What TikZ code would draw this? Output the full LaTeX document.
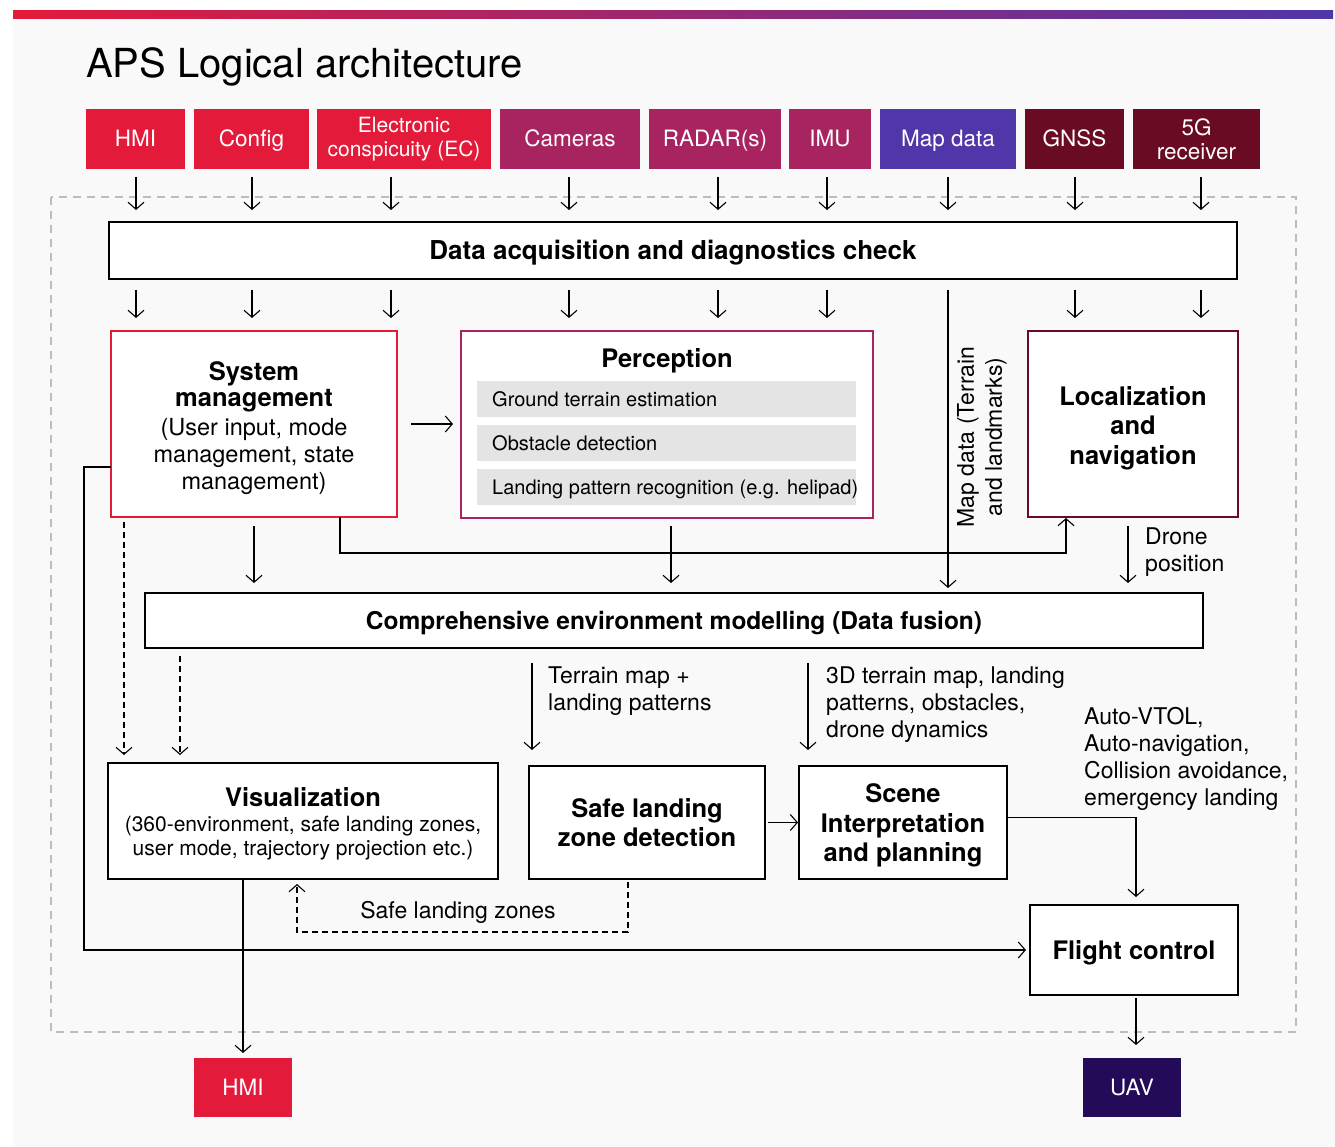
\documentclass[tikz,border=0pt]{standalone}
\usepackage{fontspec}
\setmainfont{TeX Gyre Heros}
\usetikzlibrary{arrows.meta,calc}
\definecolor{cred}{HTML}{E41A3A}
\definecolor{cmag}{HTML}{A72460}
\definecolor{cpurp}{HTML}{5036A8}
\definecolor{cmaroon}{HTML}{690B22}
\definecolor{cuav}{HTML}{230B59}
\definecolor{cbg}{HTML}{F9F9F9}
\definecolor{citem}{HTML}{E4E4E4}
\definecolor{cdash}{HTML}{BDBDBD}
\definecolor{cmid}{HTML}{B21E55}
\tikzset{
  src/.style={rectangle, inner sep=0pt, outer sep=0pt, text=white, minimum height=60pt,
    align=center, font=\fontsize{22.5}{24}\selectfont},
  one/.style={text height=16pt, text depth=0pt},
  bbox/.style={rectangle, draw=black, line width=2.8pt, fill=white, inner sep=0pt, outer sep=0pt},
  cbox/.style={rectangle, draw=#1, line width=2.6pt, fill=white, inner sep=0pt, outer sep=0pt},
  btxt/.style={font=\fontsize{25.5}{29.5}\selectfont\bfseries, align=center, inner sep=0pt},
  bone/.style={btxt, text height=18.5pt, text depth=0pt},
  rtxt/.style={font=\fontsize{23}{27}\selectfont, align=left, inner sep=0pt},
  item/.style={rectangle, fill=citem, inner sep=0pt, outer sep=0pt, minimum width=379pt, minimum height=36pt},
  itxt/.style={font=\fontsize{20}{24}\selectfont, inner sep=0pt, text height=14.4pt, text depth=0pt},
  arr/.style={line width=1.1pt, -{Straight Barb[length=7pt,width=16pt]}},
  darr/.style={arr, dash pattern=on 6pt off 4pt},
}
\begin{document}
\begin{tikzpicture}[x=1pt,y=-1pt]
\useasboundingbox (0,0) rectangle (1335,1147);
\fill[white] (0,0) rectangle (1335,1147);
\fill[cbg] (13,19) rectangle (1335,1147);
\shade[left color=cred, middle color=cmid, right color=cpurp] (13,11) rectangle (1333,19);

\node[anchor=base west, inner sep=0pt, font=\fontsize{40}{44}\selectfont] (title) at (86,78) {APS Logical architecture};

% outer dashed frame
\draw[cdash, line width=2pt, dash pattern=on 8pt off 6pt] (51,197) rectangle (1296,1032);

% sources
\node[src, one, fill=cred, minimum width=99pt] (iHMI) at (135.5,139) {HMI};
\node[src, one, fill=cred, minimum width=115pt] (iCfg) at (251.5,139) {Config};
\node[src, fill=cred, minimum width=174pt, font=\fontsize{21}{24}\selectfont] (iEC) at (404,139) {Electronic\\conspicuity (EC)};
\node[src, one, fill=cmag, minimum width=140pt] (iCam) at (570,139) {Cameras};
\node[src, one, fill=cmag, minimum width=132pt] (iRad) at (715,139) {RADAR(s)};
\node[src, one, fill=cmag, minimum width=82pt] (iIMU) at (830,139) {IMU};
\node[src, one, fill=cpurp, minimum width=136pt] (iMap) at (948,139) {Map data};
\node[src, one, fill=cmaroon, minimum width=99pt] (iGNSS) at (1074.5,139) {GNSS};
\node[src, fill=cmaroon, minimum width=127pt] (i5G) at (1196.5,139) {5G\\receiver};

% main boxes
\node[bbox, minimum width=1128pt, minimum height=57pt] (dacq) at (673,250.5) {};
\node[bone, font=\fontsize{26}{29.5}\selectfont\bfseries] (dacqt) at (673,250.5) {Data acquisition and diagnostics check};

\node[cbox=cred, minimum width=286pt, minimum height=186pt] (sys) at (254,424) {};
\node[btxt, font=\fontsize{25.5}{26}\selectfont\bfseries] (syst) at (254,387) {System\\management};
\node[inner sep=0pt, align=center, font=\fontsize{23.5}{27}\selectfont] (sysb) at (254,456) {(User input, mode\\management, state\\management)};

\node[cbox=cmag, minimum width=412pt, minimum height=187pt] (perc) at (667,424.5) {};
\node[bone] (perct) at (667,358) {Perception};
\node[item] (p1) at (666.5,399) {};
\node[item] (p2) at (666.5,443) {};
\node[item] (p3) at (666.5,487) {};
\node[itxt, anchor=west] (p1t) at ([xshift=15pt]p1.west) {Ground terrain estimation};
\node[itxt, anchor=west] (p2t) at ([xshift=15pt]p2.west) {Obstacle detection};
\node[itxt, anchor=west] (p3t) at ([xshift=15pt]p3.west) {Landing pattern recognition (e.g. helipad)};

\node[cbox=cmaroon, minimum width=210pt, minimum height=186pt] (loc) at (1133,424) {};
\node[btxt] (loct) at (1133,428) {Localization\\and\\navigation};

\node[rtxt, rotate=90, align=center, font=\fontsize{23}{28}\selectfont] (maplbl) at (982,437) {Map data (Terrain\\and landmarks)};

\node[bbox, minimum width=1058pt, minimum height=55pt] (comp) at (674,620.5) {};
\node[bone, font=\fontsize{24.5}{29.5}\selectfont\bfseries] (compt) at (674,620.5) {Comprehensive environment modelling (Data fusion)};

\node[bbox, minimum width=390pt, minimum height=116pt] (vis) at (303,821) {};
\node[bone] (vist) at (303,797) {Visualization};
\node[inner sep=0pt, align=center, font=\fontsize{21}{24}\selectfont] (visb) at (303,838) {(360-environment, safe landing zones,\\user mode, trajectory projection etc.)};

\node[bbox, minimum width=236pt, minimum height=113pt] (safe) at (647,822.5) {};
\node[btxt] (safet) at (647,822.5) {Safe landing\\zone detection};

\node[bbox, minimum width=208pt, minimum height=113pt] (scene) at (903,822.5) {};
\node[btxt] (scenet) at (903,825.5) {Scene\\Interpretation\\and planning};

\node[bbox, minimum width=208pt, minimum height=90pt] (flight) at (1134,950) {};
\node[bone] (flightt) at (1134,950) {Flight control};

\node[src, one, fill=cred, minimum width=98pt, minimum height=59pt] (hmio) at (243,1087.5) {HMI};
\node[src, one, fill=cuav, minimum width=98pt, minimum height=59pt] (uav) at (1132,1087.5) {UAV};

% labels
\node[rtxt, anchor=north west] (lterr) at (548,667) {Terrain map +\\landing patterns};
\node[rtxt, anchor=north west] (l3d) at (826,667) {3D terrain map, landing\\patterns, obstacles,\\drone dynamics};
\node[rtxt, anchor=north west] (lauto) at (1084,707) {Auto-VTOL,\\Auto-navigation,\\Collision avoidance,\\emergency landing};
\node[rtxt, anchor=north west] (ldrone) at (1145,528) {Drone\\position};
\node[rtxt, text height=16.5pt, text depth=0pt] (lsafe) at (458,910) {Safe landing zones};

% source arrows
\foreach \n/\dx in {iHMI/0.5,iCfg/0.5,iEC/-13,iCam/-1,iRad/3,iIMU/-3,iMap/0,iGNSS/0.5,i5G/4.5}{
  \coordinate (a\n) at ([xshift=\dx pt]\n.south);
  \draw[arr, shorten <=8pt, shorten >=12pt] (a\n) -- (a\n |- dacq.north);
}
\foreach \n in {iHMI,iCfg,iEC,iCam,iRad,iIMU,iGNSS,i5G}{
  \draw[arr, shorten <=11pt, shorten >=13pt] (a\n |- dacq.south) -- (a\n |- sys.north);
}
\draw[arr, shorten <=11pt, shorten >=5pt] (aiMap |- dacq.south) -- (aiMap |- comp.north);

% middle connectors
\draw[arr, shorten <=14pt, shorten >=8pt] (sys.east) -- (sys.east -| perc.west);
\draw[arr, shorten <=9pt, shorten >=10pt] (sys.south) -- (sys.south |- comp.north);
\coordinate (s1) at ([xshift=-57pt]sys.south east);
\coordinate (l1) at ([xshift=38pt]loc.south west);
\draw[arr, shorten >=1pt] (s1) -- ++(0,36) -| (l1);
\coordinate (p0) at ([xshift=4pt]perc.south);
\draw[arr, shorten <=8pt, shorten >=10pt] (p0) -- (p0 |- comp.north);
\coordinate (l2) at ([xshift=-5pt]loc.south);
\draw[arr, shorten <=9pt, shorten >=10pt] (l2) -- (l2 |- comp.north);

% left feedback to flight control
\draw[arr, shorten >=4pt] ([yshift=-43pt]sys.west) -- ++(-27,0) |- (flight.west);

% dashed to visualization
\coordinate (d1) at ([xshift=13pt]sys.south west);
\draw[darr, shorten <=5pt, shorten >=8pt] (d1) -- (d1 |- vis.north);
\coordinate (d2) at ([xshift=35pt]comp.south west);
\draw[darr, shorten <=8pt, shorten >=8pt] (d2) -- (d2 |- vis.north);

% lower connectors
\coordinate (t1) at ([xshift=3pt]safe.north west);
\draw[arr, shorten <=15pt, shorten >=16pt] (t1 |- comp.south) -- (t1);
\coordinate (t2) at ([xshift=9pt]scene.north west);
\draw[arr, shorten <=15pt, shorten >=16pt] (t2 |- comp.south) -- (t2);
\draw[arr, shorten <=3pt, shorten >=1pt] (safe.east) -- (scene.west);
\coordinate (f1) at ([xshift=2pt]flight.north);
\draw[arr, shorten >=8pt] ([yshift=5pt]scene.east) -| (f1);
\draw[arr, shorten <=3pt, shorten >=13pt] (f1 |- flight.south) -- (f1 |- uav.north);
\draw[arr, shorten >=5pt] (hmio.north |- vis.south) -- (hmio.north);
\coordinate (z1) at ([xshift=-19pt]safe.south);
\coordinate (z2) at ([xshift=-6pt]vis.south);
\draw[darr, shorten <=3pt, shorten >=5pt] (z1) -- ++(0,53) -| (z2);
\end{tikzpicture}
\end{document}
